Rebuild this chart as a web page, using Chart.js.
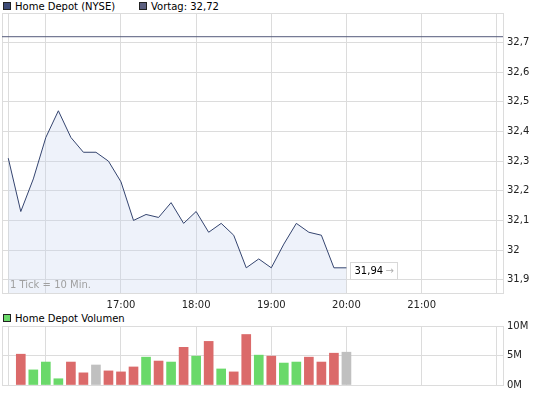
<!DOCTYPE html>
<html>
<head>
<meta charset="utf-8">
<script src="https://cdn.jsdelivr.net/npm/chart.js@4/dist/chart.umd.min.js"></script>
<style>
  body { margin: 0; background: #fff; }
  #wrap { position: relative; width: 545px; height: 395px; font-family: "DejaVu Sans", Verdana, sans-serif; font-size: 10px; color: #000; }
  canvas { position: absolute; left: 0; }
  .leg { position: absolute; white-space: nowrap; line-height: 12px; }
  .sq { display: inline-block; width: 6px; height: 6px; border: 1px solid #222; margin-right: 4px; vertical-align: 0px; }
</style>
</head>
<body>
<div id="wrap">
  <div class="leg" style="left:3px; top:1px;"><span class="sq" style="background:#3d4b77"></span>Home Depot (NYSE)</div>
  <div class="leg" style="left:139px; top:1px;"><span class="sq" style="background:#5c6080"></span>Vortag: 32,72</div>
  <div class="leg" style="left:3px; top:313px;"><span class="sq" style="background:#6ad96a"></span>Home Depot Volumen</div>
  <canvas id="priceChart" width="545" height="315" style="top:0"></canvas>
  <canvas id="volChart" width="545" height="85" style="top:310px"></canvas>
</div>
<script>
    // times in minutes after midnight, 10 min steps from 15:30 to 20:00
    const times = [930, 940, 950, 960, 970, 980, 990, 1000, 1010, 1020, 1030, 1040, 1050, 1060,
                   1070, 1080, 1090, 1100, 1110, 1120, 1130, 1140, 1150, 1160, 1170, 1180, 1190, 1200];
    const prices = [32.31, 32.13, 32.24, 32.38, 32.47, 32.38, 32.33, 32.33, 32.30, 32.23, 32.10, 32.12, 32.11, 32.16,
                    32.09, 32.13, 32.06, 32.09, 32.05, 31.94, 31.97, 31.94, 32.02, 32.09, 32.06, 32.05, 31.94, 31.94];
    // volume per interval, 15:40 .. 20:00 (millions)
    const volumes = [5.22, 2.56, 3.89, 1.06, 3.89, 2.06, 3.39, 2.39, 2.22, 3.06, 4.72, 4.06, 3.89, 6.39,
                     4.89, 7.39, 2.72, 2.22, 8.56, 5.06, 4.89, 3.72, 3.89, 4.72, 3.89, 5.39, 5.56];
    const prevClose = 32.72;
    const gridTimes = [925, 930, 960, 1020, 1080, 1140, 1200, 1260, 1320];
    const hourLabels = {1020: '17:00', 1080: '18:00', 1140: '19:00', 1200: '20:00', 1260: '21:00'};
    const priceTicks = [31.9, 32.0, 32.1, 32.2, 32.3, 32.4, 32.5, 32.6, 32.7, 32.8];
    const volTicks = [0, 5, 10];

    const gridColor = '#dcdcdc';
    const font = { family: '"DejaVu Sans", Verdana, sans-serif', size: 10 };

    function fmt(v, d) {
      return v.toFixed(d).replace(/\.?0+$/, '').replace('.', ',');
    }

    const xAxis = (showLabels, h) => ({
      type: 'linear', min: 925, max: 1325, offset: false,
      afterBuildTicks: s => { s.ticks = gridTimes.map(v => ({ value: v })); },
      afterFit: s => { s.height = h; s.paddingLeft = 0; s.paddingRight = 0; },
      grid: { color: gridColor, drawTicks: false, offset: false },
      border: { color: gridColor },
      ticks: {
        display: showLabels, autoSkip: false, maxRotation: 0, padding: 6,
        color: '#222', font: font,
        callback: v => hourLabels[v] || ''
      }
    });

    const infoPlugin = {
      id: 'info',
      afterDatasetsDraw(chart) {
        const { ctx, chartArea, scales } = chart;
        ctx.save();
        ctx.font = '10px "DejaVu Sans", Verdana, sans-serif';
        ctx.textBaseline = 'middle';
        ctx.fillStyle = '#a0a0a0';
        ctx.fillText('1 Tick = 10 Min.', chartArea.left + 8, chartArea.bottom - 8);

        const last = prices.length - 1;
        const px = scales.x.getPixelForValue(times[last]);
        const py = scales.y.getPixelForValue(prices[last]);
        const bx = Math.round(px) + 4.5, by = Math.round(py) - 5.5, bw = 47, bh = 17;
        ctx.fillStyle = '#fff';
        ctx.fillRect(bx, by, bw, bh);
        ctx.strokeStyle = '#d8d8d8';
        ctx.lineWidth = 1;
        ctx.strokeRect(bx, by, bw, bh);
        ctx.fillStyle = '#000';
        ctx.fillText(fmt(prices[last], 2), bx + 4, by + bh / 2 + 0.5);
        ctx.fillStyle = '#b0b0b0';
        ctx.fillText('\u2192', bx + 35, by + bh / 2 + 0.5);
        ctx.restore();
      }
    };

    new Chart(document.getElementById('priceChart'), {
      type: 'line',
      data: {
        datasets: [{
          data: times.map((t, i) => ({ x: t, y: prices[i] })),
          borderColor: '#34446f',
          borderWidth: 1,
          backgroundColor: 'rgba(200,212,240,0.3)',
          fill: 'start',
          pointRadius: 0,
          tension: 0
        }, {
          data: [{ x: 925, y: prevClose }, { x: 1325, y: prevClose }],
          borderColor: '#545a7a',
          borderWidth: 1,
          pointRadius: 0,
          fill: false
        }]
      },
      options: {
        responsive: false,
        animation: false,
        layout: { padding: { top: 13, left: 2, right: 0, bottom: 0 } },
        plugins: { legend: { display: false }, tooltip: { enabled: false } },
        scales: {
          x: xAxis(true, 22),
          y: {
            position: 'right', min: 31.855, max: 32.8,
            afterBuildTicks: s => { s.ticks = priceTicks.map(v => ({ value: v })); },
            afterFit: s => { s.width = 42; },
            grid: { color: gridColor, drawTicks: false },
            border: { color: gridColor },
            ticks: {
              padding: 4, color: '#222', font: font,
              callback: v => v >= 32.75 ? '' : fmt(v, 1)
            }
          }
        }
      },
      plugins: [infoPlugin]
    });

    const volColors = volumes.map((v, i) => {
      const d = prices[i + 1] - prices[i];
      if (Math.abs(d) < 0.001) return '#c0c0c0';
      return d > 0 ? '#6ad96a' : '#db6a6a';
    });

    new Chart(document.getElementById('volChart'), {
      type: 'bar',
      data: {
        datasets: [{
          data: volumes.map((v, i) => ({ x: times[i + 1], y: v })),
          backgroundColor: volColors,
          barThickness: 9
        }]
      },
      options: {
        responsive: false,
        animation: false,
        layout: { padding: { top: 16, left: 2, right: 0, bottom: 0 } },
        plugins: { legend: { display: false }, tooltip: { enabled: false } },
        scales: {
          x: xAxis(false, 9),
          y: {
            position: 'right', min: 0, max: 10,
            afterBuildTicks: s => { s.ticks = volTicks.map(v => ({ value: v })); },
            afterFit: s => { s.width = 42; },
            grid: { color: gridColor, drawTicks: false },
            border: { color: gridColor },
            ticks: { padding: 4, color: '#222', font: font, callback: v => v + 'M' }
          }
        }
      }
    });
</script>
</body>
</html>
